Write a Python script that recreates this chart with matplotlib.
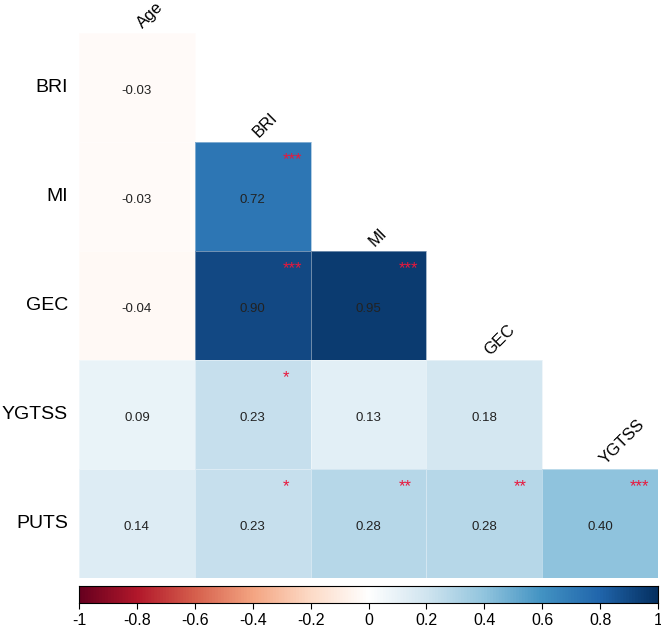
import matplotlib
matplotlib.use("Agg")
import matplotlib.pyplot as plt
import matplotlib.transforms as mtransforms
from matplotlib.colors import LinearSegmentedColormap
import numpy as np

plt.rcParams['font.family'] = ['Liberation Sans', 'DejaVu Sans']

# данные: нижний треугольник корреляционной матрицы
row_labels = ["BRI", "MI", "GEC", "YGTSS", "PUTS"]
col_labels = ["Age", "BRI", "MI", "GEC", "YGTSS"]

r_bri = [-0.03]
r_mi = [-0.03, 0.72]
r_gec = [-0.04, 0.90, 0.95]
r_ygtss = [0.09, 0.23, 0.13, 0.18]
r_puts = [0.14, 0.23, 0.28, 0.28, 0.40]

s_bri = [""]
s_mi = ["", "***"]
s_gec = ["", "***", "***"]
s_ygtss = ["", "*", "", ""]
s_puts = ["", "*", "**", "**", "***"]

rows = [r_bri, r_mi, r_gec, r_ygtss, r_puts]
stars = [s_bri, s_mi, s_gec, s_ygtss, s_puts]

n = len(row_labels)
mat = np.full((n, n), np.nan)
for i, r in enumerate(rows):
    mat[i, :len(r)] = r
mat = np.ma.masked_invalid(mat)

# палитра как в corrplot (RdBu)
cmap = LinearSegmentedColormap.from_list("rdbu", [
    "#67001F", "#B2182B", "#D6604D", "#F4A582", "#FDDBC7", "#FFFFFF",
    "#D1E5F0", "#92C5DE", "#4393C3", "#2166AC", "#053061"], N=200)

W, H = 661, 632
fig = plt.figure(figsize=(W / 100, H / 100), dpi=100)
ax = fig.add_axes([79 / W, 1 - 578 / H, (658 - 79) / W, (578 - 33) / H])

ax.pcolormesh(np.arange(n + 1) - 0.5, np.arange(n + 1) - 0.5, mat,
              cmap=cmap, vmin=-1, vmax=1, edgecolors=(1, 1, 1, 0.4), linewidth=0.6)
ax.set_xlim(-0.5, n - 0.5)
ax.set_ylim(n - 0.5, -0.5)
ax.axis("off")

cw, ch = (658 - 79) / n, (578 - 33) / n   # размер клетки в пикселях
for i, r in enumerate(rows):
    for j, v in enumerate(r):
        ax.text(j, i + 0.03, "%.2f" % v, ha="center", va="center", fontsize=9.5, color="#222222")
        if stars[i][j]:
            ax.text(j + 0.5 - 28 / cw, i - 0.5 + 18 / ch, stars[i][j], ha="left", va="center",
                    fontsize=12, color="#E8173C")

# подписи строк
for i, lab in enumerate(row_labels):
    ax.text(-0.5, i, lab, ha="right", va="center", fontsize=14,
            transform=ax.transData + mtransforms.ScaledTranslation(-11 / 100, 0, fig.dpi_scale_trans))

# подписи столбцов (под углом 45)
for j, lab in enumerate(col_labels):
    ax.text(j, j - 0.5, lab, ha="left", va="baseline", rotation=45, rotation_mode="anchor",
            fontsize=12,
            transform=ax.transData + mtransforms.ScaledTranslation(6 / 100, 4 / 100, fig.dpi_scale_trans))

# цветовая шкала
cax = fig.add_axes([79 / W, 1 - 603 / H, (658 - 79) / W, 17 / H])
grad = np.linspace(-1, 1, 400).reshape(1, -1)
cax.imshow(grad, aspect="auto", cmap=cmap, extent=[-1, 1, 0, 1], vmin=-1, vmax=1)
cax.set_yticks([])
ticks = np.linspace(-1, 1, 11)
cax.set_xticks(ticks)
cax.set_xticklabels(["-1", "-0.8", "-0.6", "-0.4", "-0.2", "0", "0.2", "0.4", "0.6", "0.8", "1"],
                    fontsize=11.5)
cax.tick_params(axis="x", length=4, width=0.8, direction="out", pad=3)
for sp in cax.spines.values():
    sp.set_linewidth(0.8)

plt.savefig("out.png", dpi=100)
